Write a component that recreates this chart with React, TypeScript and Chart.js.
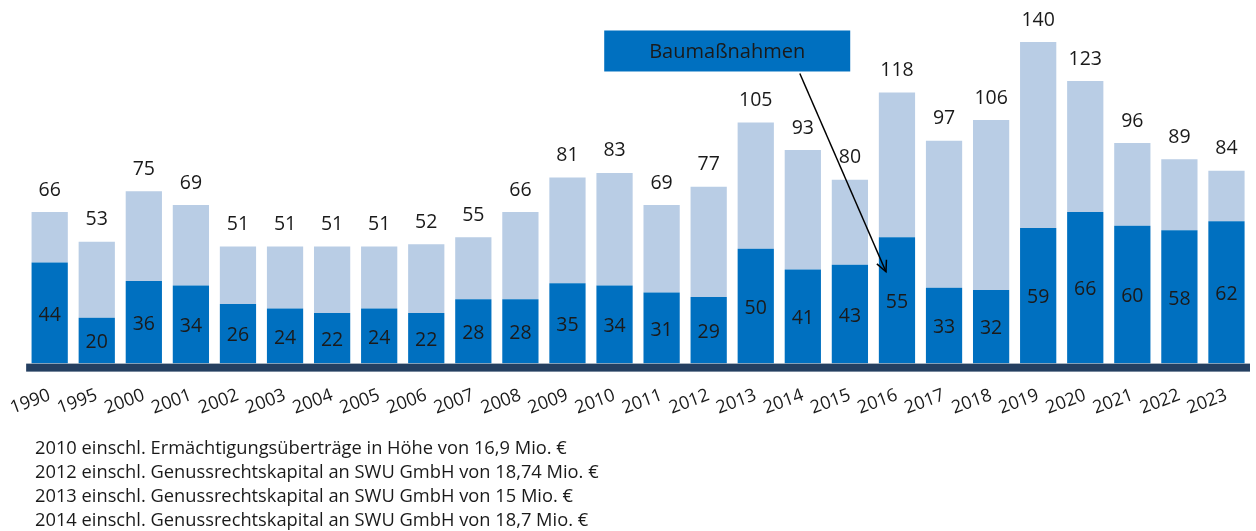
import React, { useEffect, useRef } from "react";
import { Chart, registerables } from "chart.js";

Chart.register(...registerables);

const years = ["1990","1995","2000","2001","2002","2003","2004","2005","2006","2007","2008","2009","2010","2011","2012","2013","2014","2015","2016","2017","2018","2019","2020","2021","2022","2023"];
const totals = [66,53,75,69,51,51,51,51,52,55,66,81,83,69,77,105,93,80,118,97,106,140,123,96,89,84];
const construction = [44,20,36,34,26,24,22,24,22,28,28,35,34,31,29,50,41,43,55,33,32,59,66,60,58,62];
const remainder = totals.map((t, i) => t - construction[i]);
const footnotes = [
  "2010 einschl. Ermächtigungsüberträge in Höhe von 16,9 Mio. €",
  "2012 einschl. Genussrechtskapital an SWU GmbH von 18,74 Mio. €",
  "2013 einschl. Genussrechtskapital an SWU GmbH von 15 Mio. €",
  "2014 einschl. Genussrechtskapital an SWU GmbH von 18,7 Mio. €",
];
const annotationText = "Baumaßnahmen";

const FONT = "'Open Sans', 'Noto Sans', sans-serif";
const DARK = "#0070C0";
const LIGHT = "#B9CDE5";
const AXIS = "#243F60";
const TEXT = "#1a1a1a";

const labelsPlugin = {
  id: "labelsPlugin",
  afterDatasetsDraw(chart: any) {
    const ctx = chart.ctx;
    const x = chart.scales.x;
    const y = chart.scales.y;
    const area = chart.chartArea;
    ctx.save();
    ctx.fillStyle = AXIS;
    ctx.fillRect(area.left, y.getPixelForValue(0), area.right - area.left, 8);
    ctx.font = `19.5px ${FONT}`;
    ctx.fillStyle = TEXT;
    ctx.textAlign = "center";
    ctx.textBaseline = "middle";
    const meta0 = chart.getDatasetMeta(0);
    meta0.data.forEach((bar: any, i: number) => {
      const top = y.getPixelForValue(construction[i]);
      const bottom = y.getPixelForValue(0);
      ctx.fillText(String(construction[i]), bar.x, (top + bottom) / 2 + 2);
      const tt = y.getPixelForValue(totals[i]);
      ctx.fillText(String(totals[i]), bar.x, tt - 22);
    });
    const cx = (x.getPixelForValue(14) + x.getPixelForValue(15)) / 2 - 5;
    const bw = 246, bh = 41;
    const by = y.getPixelForValue(145);
    ctx.fillStyle = DARK;
    ctx.fillRect(cx - bw / 2, by, bw, bh);
    ctx.fillStyle = TEXT;
    ctx.font = `20px ${FONT}`;
    ctx.fillText(annotationText, cx, by + bh / 2 + 1);
    const sx = x.getPixelForValue(16) - 3;
    const sy = by + bh + 2;
    const ex = x.getPixelForValue(18) - 11;
    const ey = y.getPixelForValue(40);
    ctx.strokeStyle = "#000";
    ctx.lineWidth = 1.5;
    ctx.beginPath();
    ctx.moveTo(sx, sy);
    ctx.lineTo(ex, ey);
    ctx.stroke();
    const ang = Math.atan2(ey - sy, ex - sx);
    const L = 12;
    ctx.beginPath();
    ctx.moveTo(ex - L * Math.cos(ang - 0.45), ey - L * Math.sin(ang - 0.45));
    ctx.lineTo(ex, ey);
    ctx.lineTo(ex - L * Math.cos(ang + 0.45), ey - L * Math.sin(ang + 0.45));
    ctx.stroke();
    ctx.restore();
  },
};

export default function App() {
  const ref = useRef<HTMLCanvasElement | null>(null);
  useEffect(() => {
    if (!ref.current) return;
    const chart = new Chart(ref.current, {
      type: "bar",
      data: {
        labels: years,
        datasets: [
          { label: "Baumaßnahmen", data: construction, backgroundColor: DARK, borderWidth: 0, barPercentage: 0.77, categoryPercentage: 1 },
          { label: "Sonstige", data: remainder, backgroundColor: LIGHT, borderWidth: 0, barPercentage: 0.77, categoryPercentage: 1 },
        ],
      },
      options: {
        animation: false,
        responsive: false,
        maintainAspectRatio: false,
        layout: { padding: { left: 0, right: 6, top: 19, bottom: 0 } },
        plugins: { legend: { display: false }, tooltip: { enabled: false } },
        scales: {
          x: {
            stacked: true,
            grid: { display: false, drawTicks: false },
            border: { display: false },
            ticks: { color: TEXT, font: { family: FONT, size: 18 }, minRotation: 20, maxRotation: 20, padding: 21, autoSkip: false },
          },
          y: {
            stacked: true,
            display: false,
            min: 0,
            max: 150,
          },
        },
      },
      plugins: [labelsPlugin],
    });
    return () => chart.destroy();
  }, []);
  return (
    <div style={{ position: "absolute", left: 0, top: 0, width: 1256, height: 531, background: "#fff", overflow: "hidden" }}>
      <canvas ref={ref} width={1266} height={440} style={{ display: "block", position: "absolute", left: -10, top: 0 }} />
      <div style={{ position: "absolute", left: 35, top: 435, fontFamily: FONT, fontSize: 18.3, lineHeight: "24px", color: TEXT, whiteSpace: "nowrap" }}>
        {footnotes.map((f, i) => (
          <div key={i}>{f}</div>
        ))}
      </div>
    </div>
  );
}
